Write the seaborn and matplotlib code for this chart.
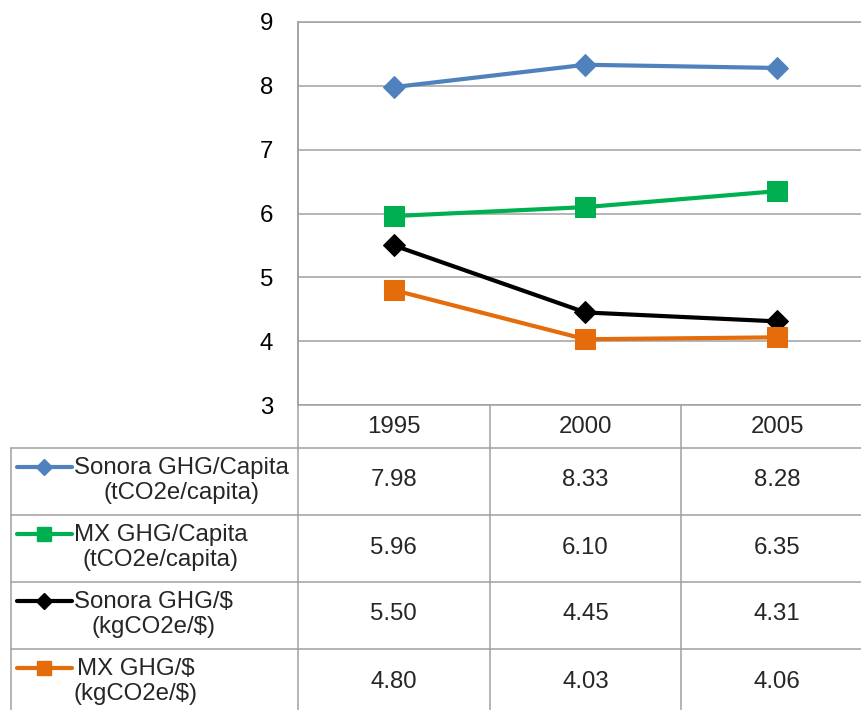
import numpy as np
import pandas as pd
import matplotlib
matplotlib.use("Agg")
import matplotlib.pyplot as plt
import matplotlib.transforms as mtransforms
from matplotlib.lines import Line2D
import seaborn as sns

# ---- data ----
years = ["1995", "2000", "2005"]
series_labels = [
    "Sonora GHG/Capita\n(tCO2e/capita)",
    "MX GHG/Capita\n(tCO2e/capita)",
    "Sonora GHG/$\n(kgCO2e/$)",
    "MX GHG/$\n(kgCO2e/$)",
]
sonora_capita = [7.98, 8.33, 8.28]
mx_capita = [5.96, 6.10, 6.35]
sonora_usd = [5.50, 4.45, 4.31]
mx_usd = [4.80, 4.03, 4.06]
y_ticks = [3, 4, 5, 6, 7, 8, 9]

series_values = [sonora_capita, mx_capita, sonora_usd, mx_usd]
colors = ["#4F81BD", "#00B050", "#000000", "#E46C0A"]
markers = ["D", "s", "D", "s"]
msizes = [11, 14, 11, 14]
key_msizes = [8.5, 10.5, 8.5, 10.5]

sns.set_style("white")
plt.rcParams['font.family'] = ['Liberation Sans', 'DejaVu Sans']

W, H = 862, 710
FS = 17.3
GRID = "#A0A0A0"
fig = plt.figure(figsize=(W / 100, H / 100), dpi=100)


def fx(px):
    return px / W


def fy(py):
    return 1 - py / H


ax = fig.add_axes([fx(298), fy(405), fx(862) - fx(298), fy(22) - fy(405)])

for lab, vals, c, m, ms in zip(series_labels, series_values, colors, markers, msizes):
    df = pd.DataFrame({"x": np.arange(len(years)), "y": vals})
    sns.lineplot(data=df, x="x", y="y", ax=ax, color=c, marker=m, markersize=ms,
                 markeredgecolor=c, linewidth=3.0, legend=False, zorder=3)

ax.set_xlim(-0.5, 2.443)
ax.set_ylim(3, 9)
ax.set_yticks(y_ticks)
ax.set_xticks([])
ax.set_xlabel("")
ax.set_ylabel("")
ax.yaxis.grid(True, color=GRID, linewidth=1.1)
ax.set_axisbelow(True)
for s in ["right", "bottom"]:
    ax.spines[s].set_visible(False)
for s in ["left", "top"]:
    ax.spines[s].set_color(GRID)
    ax.spines[s].set_linewidth(1.1)
ax.tick_params(axis="y", length=0, pad=18, labelsize=FS, colors="black")

# ---- data table below ----
blend = mtransforms.blended_transform_factory(ax.transData, fig.transFigure)


def hline(y, x0, x1):
    fig.add_artist(Line2D([fx(x0), fx(x1)], [fy(y), fy(y)], transform=fig.transFigure,
                          color=GRID, linewidth=1.1))


def vline_fig(x, y0, y1):
    fig.add_artist(Line2D([fx(x), fx(x)], [fy(y0), fy(y1)], transform=fig.transFigure,
                          color=GRID, linewidth=1.1))


hline(405, 298, 862)
row_edges = [448, 515, 582, 649, 716]
for y in row_edges[:-1]:
    hline(y, 11, 862)
vline_fig(11, 448, 716)
vline_fig(298, 22, 716)
for xb in [0.5, 1.5]:
    fig.add_artist(Line2D([xb, xb], [fy(405), fy(716)], transform=blend,
                          color=GRID, linewidth=1.1))

# header (years)
for i, yr in enumerate(years):
    fig.text(i, fy(427), yr, transform=blend, ha="center", va="center", fontsize=FS)

# rows
for r, (lab, vals, c, m, kms) in enumerate(zip(series_labels, series_values, colors, markers, key_msizes)):
    yc = (row_edges[r] + row_edges[r + 1]) / 2 - 1
    for i, v in enumerate(vals):
        fig.text(i, fy(yc), f"{v:.2f}", transform=blend, ha="center", va="center", fontsize=FS)
    fig.text(fx(74), fy(yc), lab, ha="left", va="center", multialignment="center",
             fontsize=FS, linespacing=1.15)
    yk = yc - 14
    fig.add_artist(Line2D([fx(17), fx(72)], [fy(yk), fy(yk)], transform=fig.transFigure,
                          color=c, linewidth=3.0))
    fig.add_artist(Line2D([fx(44.5)], [fy(yk)], transform=fig.transFigure, color=c,
                          marker=m, markersize=kms, markeredgecolor=c, linestyle="none"))

fig.savefig("out.png", dpi=100)
